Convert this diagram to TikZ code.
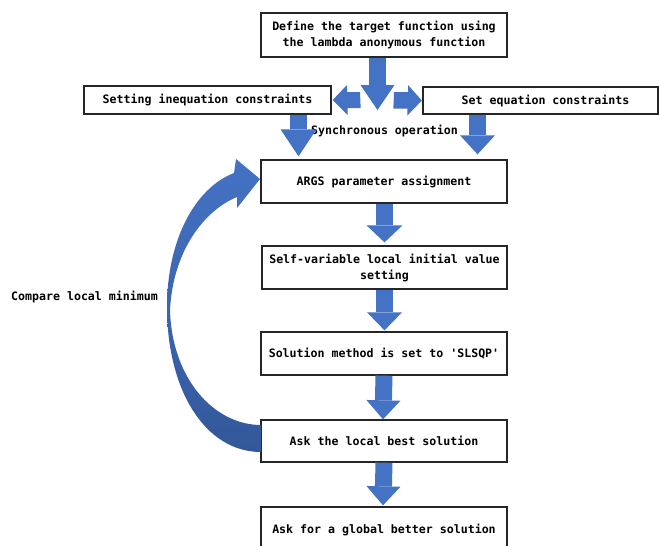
\documentclass[tikz,border=0pt]{standalone}
\usepackage{fontspec}
\setmonofont{DejaVu Sans Mono}
\usetikzlibrary{arrows.meta,calc}
\definecolor{arrowblue}{HTML}{4472C4}
\definecolor{arrowdark}{HTML}{33589A}
\newcommand{\lblfont}{\ttfamily\bfseries\fontsize{11.6}{16}\selectfont}
\begin{document}
\begin{tikzpicture}[x=1pt,y=-1pt,
  box/.style={draw=black!85, line width=1.3pt, minimum width=246pt, align=center, inner sep=0pt, font=\lblfont},
  lbl/.style={font=\lblfont, inner sep=0pt},
  blockarrow/.style n args={2}{draw=arrowblue, line width=17pt,
     -{Triangle[width=#1pt, length=#2pt, line width=0pt]}}
]
\useasboundingbox (0,0) rectangle (659,546);
\clip (0,0) rectangle (659,546);

% boxes
\node[box, minimum height=44pt] (def) at (384,35) {Define the target function using\\the lambda anonymous function};
\node[box, minimum width=247pt, minimum height=28pt] (ineq) at (207.5,100) {Setting inequation constraints};
\node[box, minimum width=235pt, minimum height=27pt] (eq) at (540.5,100.5) {\hspace*{10pt}Set equation constraints};
\node[box, minimum height=43pt] (args) at (384,181.5) {ARGS parameter assignment};
\node[box, minimum width=245pt, minimum height=43pt] (self) at (384.5,267.5) {Self-variable local initial value\\setting};
\node[box, minimum height=43pt] (sol) at (384,353.5) {Solution method is set to 'SLSQP'};
\node[box, minimum height=42pt] (ask) at (384,441) {Ask the local best solution};
\node[box, minimum height=46pt] (glob) at (384,530) {Ask for a global better solution};

% labels
\node[lbl] (sync) at (384.5,131) {Synchronous operation};
\node[lbl] (cmp) at (84.5,297) {Compare local minimum};

% split arrows
\coordinate (splittip) at (377.5,110);
\coordinate (splitL) at (360,100);
\coordinate (splitR) at (394,100);
\draw[blockarrow={34}{25}] ($(def.south)+(-6.5,0)$) -- (splittip);
\path[fill=arrowblue] (splitL) ++(0,-8) -- ++(-13,0) -- ++(0,-7) -- ($(ineq.east)+(1,0)$) -- ++(15,15) -- ++(0,-7) -- ++(13,0) -- cycle;
\path[fill=arrowblue] (splitR) ++(0,-8) -- ++(14,0) -- ++(0,-7) -- ($(eq.west)+(-0.5,0)$) -- ++(-14.5,15) -- ++(0,-7) -- ++(-14,0) -- cycle;

% down arrows
\draw[blockarrow={36}{27}] ($(ineq.south)+(91,0)$) -- ($(args.north)+(-85.5,-3)$);
\draw[blockarrow={35}{19}] ($(eq.south)+(-63,0)$) -- ($(args.north)+(93.5,-5)$);
\draw[blockarrow={36}{17}] ($(args.south)+(0.5,0)$) -- ($(self.north)+(0,-3)$);
\draw[blockarrow={35}{18}] ($(self.south)+(0,0)$) -- ($(sol.north)+(0.5,-1)$);
\draw[blockarrow={34}{19}] ($(sol.south)+(0,0)$) -- ($(ask.north)+(-1,0)$);
\draw[blockarrow={34}{19}] ($(ask.south)+(0,0)$) -- ($(glob.north)+(-1,-1)$);

% curved feedback arrow
\shade[top color=arrowblue, bottom color=arrowdark]
  (261,452) .. controls (205,452) and (167,390) .. (167,307)
  .. controls (167,240) and (195,188) .. (234,173)
  -- (236,159) -- (260,179) -- (237,208) -- (237,197)
  .. controls (205,210) and (173,250) .. (170,310)
  .. controls (172,380) and (215,425) .. (261,425) -- cycle;
\end{tikzpicture}
\end{document}
